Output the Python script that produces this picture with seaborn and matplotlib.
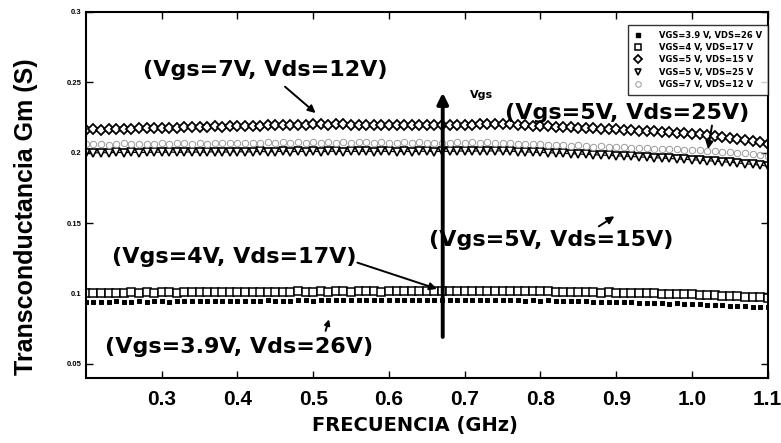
import numpy as np
import pandas as pd
import seaborn as sns
import matplotlib
matplotlib.use("Agg")
import matplotlib.pyplot as plt
from matplotlib.lines import Line2D

# ---------------- data ----------------
freq = np.round(np.linspace(0.20, 1.10, 91), 2)

gm_vgs5_vds15 = [
    0.2163, 0.2165, 0.2164, 0.2167, 0.2169, 0.2168, 0.2171, 0.2173, 0.2172, 0.2175,
    0.2177, 0.2176, 0.2179, 0.2181, 0.2180, 0.2183, 0.2185, 0.2187, 0.2186, 0.2188,
    0.2190, 0.2192, 0.2190, 0.2192, 0.2195, 0.2194, 0.2196, 0.2198, 0.2197, 0.2199,
    0.2201, 0.2203, 0.2200, 0.2202, 0.2201, 0.2199, 0.2200, 0.2198, 0.2199, 0.2197,
    0.2196, 0.2198, 0.2195, 0.2197, 0.2196, 0.2194, 0.2196, 0.2195, 0.2197, 0.2196,
    0.2198, 0.2200, 0.2202, 0.2203, 0.2204, 0.2202, 0.2201, 0.2199, 0.2196, 0.2193,
    0.2191, 0.2189, 0.2186, 0.2184, 0.2181, 0.2179, 0.2176, 0.2174, 0.2171, 0.2168,
    0.2166, 0.2163, 0.2159, 0.2156, 0.2154, 0.2151, 0.2147, 0.2144, 0.2141, 0.2138,
    0.2135, 0.2130, 0.2125, 0.2119, 0.2113, 0.2107, 0.2100, 0.2092, 0.2083, 0.2073,
    0.2062,
]

gm_vgs7_vds12 = [
    0.2062, 0.2060, 0.2065, 0.2058, 0.2063, 0.2066, 0.2061, 0.2064, 0.2059, 0.2065,
    0.2067, 0.2062, 0.2066, 0.2069, 0.2063, 0.2068, 0.2065, 0.2070, 0.2066, 0.2069,
    0.2071, 0.2067, 0.2072, 0.2068, 0.2073, 0.2070, 0.2074, 0.2069, 0.2073, 0.2071,
    0.2074, 0.2070, 0.2075, 0.2072, 0.2076, 0.2071, 0.2074, 0.2073, 0.2070, 0.2074,
    0.2072, 0.2069, 0.2073, 0.2070, 0.2074, 0.2071, 0.2068, 0.2072, 0.2070, 0.2073,
    0.2071, 0.2074, 0.2070, 0.2073, 0.2069, 0.2066, 0.2068, 0.2064, 0.2061, 0.2063,
    0.2059, 0.2056, 0.2058, 0.2053, 0.2050, 0.2052, 0.2047, 0.2044, 0.2046, 0.2041,
    0.2038, 0.2040, 0.2035, 0.2032, 0.2034, 0.2029, 0.2026, 0.2028, 0.2023, 0.2020,
    0.2017, 0.2019, 0.2014, 0.2010, 0.2007, 0.2003, 0.1999, 0.1995, 0.1990, 0.1985,
    0.1980,
]

gm_vgs5_vds25 = [
    0.2000, 0.1998, 0.2001, 0.1999, 0.2002, 0.2000, 0.2003, 0.2001, 0.2002, 0.2004,
    0.2003, 0.2005, 0.2002, 0.2004, 0.2006, 0.2003, 0.2005, 0.2007, 0.2004, 0.2006,
    0.2008, 0.2005, 0.2007, 0.2009, 0.2006, 0.2008, 0.2010, 0.2007, 0.2009, 0.2008,
    0.2010, 0.2007, 0.2009, 0.2011, 0.2008, 0.2010, 0.2009, 0.2011, 0.2008, 0.2010,
    0.2009, 0.2007, 0.2010, 0.2008, 0.2009, 0.2011, 0.2008, 0.2010, 0.2009, 0.2011,
    0.2012, 0.2010, 0.2013, 0.2011, 0.2014, 0.2012, 0.2010, 0.2008, 0.2006, 0.2004,
    0.2002, 0.2000, 0.1998, 0.1995, 0.1993, 0.1991, 0.1988, 0.1986, 0.1983, 0.1981,
    0.1978, 0.1976, 0.1973, 0.1970, 0.1968, 0.1965, 0.1962, 0.1959, 0.1956, 0.1953,
    0.1950, 0.1947, 0.1943, 0.1940, 0.1936, 0.1932, 0.1927, 0.1922, 0.1917, 0.1911,
    0.1905,
]

gm_vgs4_vds17 = [
    0.1005, 0.1004, 0.1006, 0.1005, 0.1003, 0.1006, 0.1007, 0.1005, 0.1008, 0.1006,
    0.1007, 0.1009, 0.1006, 0.1008, 0.1010, 0.1007, 0.1009, 0.1011, 0.1008, 0.1010,
    0.1012, 0.1009, 0.1011, 0.1013, 0.1010, 0.1012, 0.1011, 0.1013, 0.1014, 0.1011,
    0.1013, 0.1015, 0.1012, 0.1014, 0.1016, 0.1013, 0.1015, 0.1014, 0.1016, 0.1013,
    0.1015, 0.1017, 0.1014, 0.1016, 0.1015, 0.1017, 0.1016, 0.1018, 0.1015, 0.1017,
    0.1019, 0.1016, 0.1018, 0.1020, 0.1017, 0.1019, 0.1018, 0.1016, 0.1017, 0.1015,
    0.1016, 0.1014, 0.1012, 0.1013, 0.1011, 0.1009, 0.1010, 0.1008, 0.1006, 0.1007,
    0.1005, 0.1003, 0.1004, 0.1002, 0.1000, 0.1001, 0.0999, 0.0997, 0.0998, 0.0995,
    0.0993, 0.0991, 0.0990, 0.0987, 0.0985, 0.0983, 0.0980, 0.0978, 0.0975, 0.0972,
    0.0970,
]

gm_vgs39_vds26 = [
    0.0940, 0.0942, 0.0939, 0.0941, 0.0943, 0.0940, 0.0942, 0.0944, 0.0941, 0.0943,
    0.0945, 0.0942, 0.0944, 0.0946, 0.0943, 0.0945, 0.0947, 0.0944, 0.0946, 0.0945,
    0.0947, 0.0949, 0.0946, 0.0948, 0.0950, 0.0947, 0.0949, 0.0948, 0.0950, 0.0952,
    0.0949, 0.0951, 0.0953, 0.0950, 0.0952, 0.0951, 0.0953, 0.0950, 0.0952, 0.0954,
    0.0951, 0.0953, 0.0952, 0.0954, 0.0951, 0.0953, 0.0955, 0.0952, 0.0954, 0.0953,
    0.0955, 0.0952, 0.0954, 0.0953, 0.0951, 0.0953, 0.0950, 0.0952, 0.0949, 0.0951,
    0.0948, 0.0950, 0.0947, 0.0945, 0.0946, 0.0943, 0.0945, 0.0942, 0.0940, 0.0941,
    0.0938, 0.0936, 0.0937, 0.0934, 0.0932, 0.0933, 0.0930, 0.0928, 0.0929, 0.0926,
    0.0924, 0.0922, 0.0920, 0.0918, 0.0916, 0.0913, 0.0911, 0.0909, 0.0906, 0.0904,
    0.0901,
]

legend_labels = ["VGS=3.9 V, VDS=26 V", "VGS=4 V, VDS=17 V", "VGS=5 V, VDS=15 V",
                 "VGS=5 V, VDS=25 V", "VGS=7 V, VDS=12 V"]
x_ticks = [0.3, 0.4, 0.5, 0.6, 0.7, 0.8, 0.9, 1.0, 1.1]
x_ticklabels = ["0.3", "0.4", "0.5", "0.6", "0.7", "0.8", "0.9", "1.0", "1.1"]
y_ticks = [0.05, 0.1, 0.15, 0.2, 0.25, 0.3]
y_ticklabels = ["0.05", "0.1", "0.15", "0.2", "0.25", "0.3"]

# ---------------- style ----------------
sns.set_theme(style="white")
plt.rcParams["font.family"] = ["Liberation Sans", "DejaVu Sans"]
plt.rcParams["font.weight"] = "bold"
plt.rcParams["text.color"] = "black"
plt.rcParams["axes.labelcolor"] = "black"
plt.rcParams["xtick.color"] = "black"
plt.rcParams["ytick.color"] = "black"
WIDE = ["DejaVu Sans"]

fig = plt.figure(figsize=(7.81, 4.43), dpi=100)
ax = fig.add_axes([0.110, 0.147, 0.873, 0.826])

series = [
    (gm_vgs39_vds26, dict(marker="s", markersize=2.6, markerfacecolor="black",
                          markeredgecolor="black", linewidth=0)),
    (gm_vgs4_vds17, dict(marker="s", markersize=5.2, markerfacecolor="white",
                         markeredgecolor="black", markeredgewidth=1.1, linewidth=0.8)),
    (gm_vgs5_vds15, dict(marker="D", markersize=4.6, markerfacecolor="white",
                         markeredgecolor="black", markeredgewidth=1.3, linewidth=0.8)),
    (gm_vgs5_vds25, dict(marker="v", markersize=5.4, markerfacecolor="white",
                         markeredgecolor="black", markeredgewidth=1.2, linewidth=0.8)),
    (gm_vgs7_vds12, dict(marker="o", markersize=4.6, markerfacecolor="none",
                         markeredgecolor="#9a9a9a", markeredgewidth=0.7, linewidth=0)),
]

handles = []
for vals, kw in series:
    df = pd.DataFrame({"f": freq, "gm": vals})
    sns.lineplot(data=df, x="f", y="gm", ax=ax, color="black", **kw)
    hk = {k: v for k, v in kw.items() if k != "linewidth"}
    hk["markersize"] = min(hk["markersize"], 4.0)
    handles.append(Line2D([], [], color="black", linestyle="none", **hk))

ax.set_xlim(0.2, 1.1)
ax.set_ylim(0.04, 0.3)
ax.set_xticks(x_ticks)
ax.set_xticklabels(x_ticklabels, fontsize=15, fontweight="bold")
ax.set_yticks(y_ticks)
ax.set_yticklabels(y_ticklabels, fontsize=5.5, fontweight="bold")
ax.tick_params(axis="both", direction="in", length=5, width=1, color="black",
               top=True, right=True, bottom=True, left=True)
ax.tick_params(axis="x", pad=9)
ax.tick_params(axis="y", pad=3)
for sp in ax.spines.values():
    sp.set_color("black")
    sp.set_linewidth(1.5)

ax.set_xlabel("FRECUENCIA (GHz)", fontsize=14, fontweight="bold", family=WIDE)
ax.xaxis.set_label_coords(0.482, -0.104)
ax.set_ylabel("Transconductancia Gm (S)", fontsize=18, fontweight="bold",
              family=["Liberation Sans Narrow", "Liberation Sans"])
ax.yaxis.set_label_coords(-0.071, 0.44)

leg = ax.legend(handles, legend_labels, loc="upper right", bbox_to_anchor=(1.0, 0.965),
                borderaxespad=0.0, frameon=True, fancybox=False,
                prop=dict(family=WIDE, weight="bold", size=6),
                handlelength=1.0, handletextpad=2.0, borderpad=0.7, labelspacing=0.4)
leg.get_frame().set_edgecolor("black")
leg.get_frame().set_linewidth(1.0)

# annotations
afs = 16
ap = dict(arrowstyle="-|>", color="black", lw=1.4, mutation_scale=11)
ax.text(0.275, 0.2588, "(Vgs=7V, Vds=12V)", fontsize=afs, family=WIDE, ha="left", va="center")
ax.annotate("", xy=(0.506, 0.2269), xytext=(0.46, 0.2482), arrowprops=ap)
ax.text(0.753, 0.2283, "(Vgs=5V, Vds=25V)", fontsize=afs, family=WIDE, ha="left", va="center")
ax.annotate("", xy=(1.0207, 0.2006), xytext=(1.027, 0.2212), arrowprops=ap)
ax.text(0.6535, 0.1381, "(Vgs=5V, Vds=15V)", fontsize=afs, family=WIDE, ha="left", va="center")
ax.annotate("", xy=(0.9007, 0.1559), xytext=(0.874, 0.1466), arrowprops=ap)
ax.text(0.2343, 0.126, "(Vgs=4V, Vds=17V)", fontsize=afs, family=WIDE, ha="left", va="center")
ax.annotate("", xy=(0.667, 0.1026), xytext=(0.5549, 0.1225), arrowprops=ap)
ax.text(0.225, 0.0622, "(Vgs=3.9V, Vds=26V)", fontsize=afs, family=WIDE, ha="left", va="center")
ax.annotate("", xy=(0.522, 0.0835), xytext=(0.5153, 0.0715),
            arrowprops=dict(arrowstyle="-|>", color="black", lw=1.4, mutation_scale=8))
ax.text(0.7066, 0.2411, "Vgs", fontsize=8, family=WIDE, ha="left", va="center")
ax.annotate("", xy=(0.671, 0.2446), xytext=(0.671, 0.0671),
            arrowprops=dict(arrowstyle="-|>", color="black", lw=2.8, mutation_scale=16))

fig.savefig("out.png", dpi=100)
